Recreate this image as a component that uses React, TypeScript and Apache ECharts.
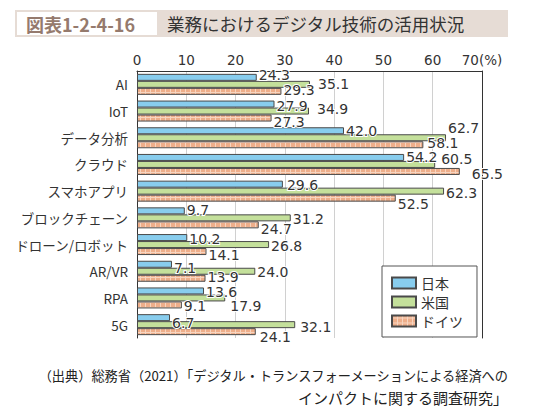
import React, { useEffect, useRef } from 'react';
import * as echarts from 'echarts';

const categories = ['AI', 'IoT', 'データ分析', 'クラウド', 'スマホアプリ', 'ブロックチェーン', 'ドローン/ロボット', 'AR/VR', 'RPA', '5G'];
const seriesNames = ['日本', '米国', 'ドイツ'];
const japan = [24.3, 27.9, 42.0, 54.2, 29.6, 9.7, 10.2, 7.1, 13.6, 6.7];
const usa = [35.1, 34.9, 62.7, 60.5, 62.3, 31.2, 26.8, 24.0, 17.9, 32.1];
const germany = [29.3, 27.3, 58.1, 65.5, 52.5, 24.7, 14.1, 13.9, 9.1, 24.1];
const xMin = 0;
const xMax = 70;
const xInterval = 10;
const titleNo = '図表1-2-4-16';
const titleText = '業務におけるデジタル技術の活用状況';
const sourceLines = ['（出典）総務省（2021）「デジタル・トランスフォーメーションによる経済への', 'インパクトに関する調査研究」'];

// label nudges (style only)
const jpOffsets = [[0, -2], [0, 2], [0, 0], [0, 0], [2, 1], [0, -1], [0, 1], [0, 4], [0, 1], [0, 5]];
const usOffsets = [[6, 0], [6, -2], [0, -10], [4, -5], [0, 2], [0, 1], [0, 1], [0, 1], [3, 8], [3, 2]];
const deOffsets = [[0, -1], [0, 4], [2, -2], [10, 3], [0, 6], [0, 4], [0, 3], [0, -1], [0, 1], [2, 5]];

const FONT = '"Noto Sans CJK JP", "Noto Sans", sans-serif';
const NUMFONT = '"DejaVu Sans", "Noto Sans CJK JP", sans-serif';

function makePattern() {
  const c = document.createElement('canvas');
  c.width = 5;
  c.height = 5;
  const ctx = c.getContext('2d')!;
  ctx.fillStyle = '#eeae8a';
  ctx.fillRect(0, 0, 5, 5);
  ctx.fillStyle = '#f7d5c0';
  ctx.fillRect(0, 0, 1, 5);
  ctx.fillRect(0, 2, 5, 1);
  return { image: c, repeat: 'repeat', imageWidth: 5, imageHeight: 5 } as any;
}

export default function App() {
  const ref = useRef<HTMLDivElement>(null);
  useEffect(() => {
    if (!ref.current) return;
    const chart = echarts.init(ref.current, undefined, { renderer: 'svg' });
    const labelBase = {
      show: true,
      position: 'right',
      distance: 2,
      color: '#333',
      fontSize: 14,
      fontFamily: NUMFONT,
      textBorderColor: '#fff',
      textBorderWidth: 2,
      formatter: (p: any) => Number(p.value).toFixed(1),
    };
    const mk = (vals: number[], offs: number[][]) =>
      vals.map((v, i) => ({ value: v, label: { offset: offs[i] } }));
    const colors = ['#88cdee', '#c4e09b', makePattern()];
    const datas = [mk(japan, jpOffsets), mk(usa, usOffsets), mk(germany, deOffsets)];
    const option: any = {
      animation: false,
      textStyle: { fontFamily: FONT },
      grid: { left: 137, top: 71, right: 58, bottom: 72 },
      xAxis: {
        type: 'value',
        position: 'top',
        min: xMin,
        max: xMax,
        interval: xInterval,
        axisLine: { show: true, lineStyle: { color: '#333', width: 1 } },
        axisTick: { show: false },
        axisLabel: {
          margin: 4,
          fontSize: 13.5,
          color: '#333',
          fontFamily: NUMFONT,
          formatter: (v: number) => (v === xMax ? v + '(%)' : String(v)),
        },
        splitLine: { show: true, lineStyle: { color: '#d0d0d0', width: 1 } },
      },
      yAxis: [
        {
          type: 'category',
          data: categories,
          inverse: true,
          axisLine: { show: true, lineStyle: { color: '#333', width: 1 } },
          axisTick: { show: false },
          axisLabel: { fontSize: 13.5, color: '#333', margin: 9, fontFamily: FONT },
        },
        {
          type: 'category',
          data: categories,
          inverse: true,
          position: 'right',
          axisLine: { show: true, lineStyle: { color: '#333', width: 1 } },
          axisTick: { show: false },
          axisLabel: { show: false },
        },
      ],
      legend: {
        orient: 'vertical',
        left: 382,
        top: 266,
        padding: [10, 14, 9, 9],
        itemWidth: 24,
        itemHeight: 11,
        itemGap: 5,
        icon: 'rect',
        borderColor: '#555',
        borderWidth: 1,
        backgroundColor: '#fff',
        textStyle: { fontSize: 14, color: '#333', fontFamily: FONT },
        data: seriesNames,
      },
      series: seriesNames.map((name, k) => ({
        name,
        type: 'bar',
        barWidth: 7,
        barGap: '0%',
        itemStyle: { color: colors[k], borderColor: '#4a4a4a', borderWidth: 1 },
        label: labelBase,
        data: datas[k],
      })),
      graphic: [
        { type: 'rect', shape: { x: 15, y: 10, width: 493, height: 27 }, style: { fill: '#e6dcd5' } },
        { type: 'rect', shape: { x: 17, y: 12, width: 140, height: 23 }, style: { fill: '#fff' } },
        {
          type: 'text', x: 26, y: 23.5,
          style: { text: titleNo, fontSize: 18, fontWeight: 'bold', fill: '#957a6d', fontFamily: FONT, verticalAlign: 'middle' },
        },
        {
          type: 'text', x: 167, y: 23.5,
          style: { text: titleText, fontSize: 17.5, fill: '#333', fontFamily: FONT, verticalAlign: 'middle' },
        },
        {
          type: 'text', x: 508, y: 375,
          style: { text: sourceLines[0], fontSize: 13.2, fill: '#222', fontFamily: FONT, align: 'right', verticalAlign: 'middle' },
        },
        {
          type: 'text', x: 508, y: 397,
          style: { text: sourceLines[1], fontSize: 15, fill: '#222', fontFamily: FONT, align: 'right', verticalAlign: 'middle' },
        },
      ],
    };
    chart.setOption(option);
    return () => chart.dispose();
  }, []);
  return <div ref={ref} style={{ width: 540, height: 410, position: 'absolute', left: 0, top: 0, background: '#fff' }} />;
}
